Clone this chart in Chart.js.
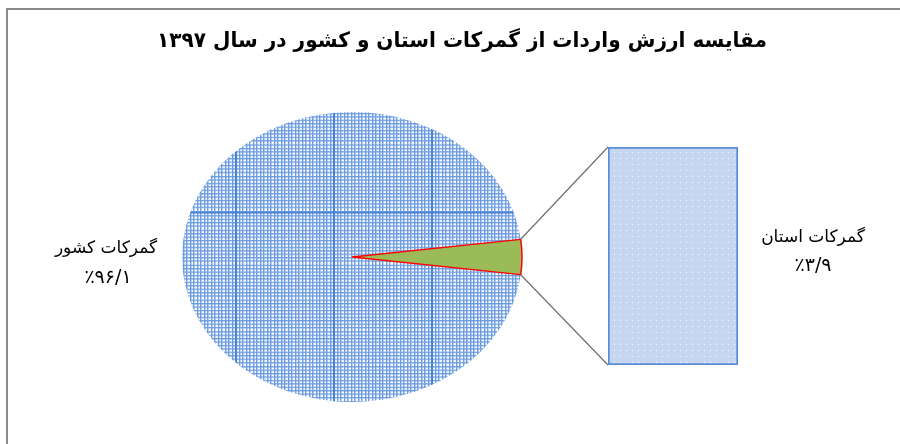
<!DOCTYPE html>
<html><head><meta charset="utf-8">
<script src="https://cdn.jsdelivr.net/npm/chart.js@4"></script>
<style>
html,body{margin:0;padding:0;background:#fff;}
#wrap{position:relative;width:900px;height:444px;overflow:hidden;background:#fff;}
#frame{position:absolute;left:6px;top:8px;width:1000px;height:1000px;border-left:2px solid #8a8a8a;border-top:2px solid #8a8a8a;box-sizing:border-box;}
canvas{position:absolute;left:0;top:0;}
</style></head><body>
<div id="wrap"><div id="frame"></div>
<canvas id="pie" width="900" height="444"></canvas>
<canvas id="bar" width="900" height="444"></canvas>
</div>
<script>
// ---- data ----
const titleText = 'مقایسه ارزش واردات از گمرکات استان و کشور در سال ۱۳۹۷';
const categories = ['گمرکات کشور', 'گمرکات استان'];
const shares = [96.1, 3.9];

// ---- helpers ----
const FONT = '"DejaVu Sans", "Noto Sans", sans-serif';
const SY = 145 / 170; // vertical squash of the pie (ellipse look)
function faNum(v) {
  const d = '۰۱۲۳۴۵۶۷۸۹';
  return '٪' + String(v).replace('.', '/').replace(/[0-9]/g, c => d[+c]);
}
function gridPattern() {
  const W = 98, H = 420;
  const c = document.createElement('canvas'); c.width = W; c.height = H;
  const g = c.getContext('2d');
  g.fillStyle = '#ffffff'; g.fillRect(0, 0, W, H);
  g.fillStyle = '#6b9be0';
  for (let i = 0; i < 28; i++) g.fillRect(Math.round(i * 3.5), 0, 1.4, H);
  const step = 3.5 / SY;
  for (let y = 0; y < H; y += step) g.fillRect(0, Math.round(y), W, 1.5);
  g.fillStyle = '#4a82d4';
  g.fillRect(0, 0, 2, H); g.fillRect(0, 0, W, 2);
  const ctx = document.getElementById('pie').getContext('2d');
  const p = ctx.createPattern(c, 'repeat');
  p.setTransform(new DOMMatrix().translate(39, 204));
  return p;
}
function dotPattern() {
  const c = document.createElement('canvas'); c.width = 6; c.height = 6;
  const g = c.getContext('2d');
  g.fillStyle = '#c5d6f0'; g.fillRect(0, 0, 6, 6);
  g.fillStyle = 'rgba(255,255,255,0.85)'; g.fillRect(2, 2, 1, 1);
  return document.getElementById('bar').getContext('2d').createPattern(c, 'repeat');
}

// ---- plugins ----
const ellipsePlugin = {
  id: 'ellipse',
  beforeDatasetsDraw(chart) {
    const a = chart.getDatasetMeta(0).data[0];
    const ctx = chart.ctx;
    ctx.save();
    ctx.translate(a.x, a.y); ctx.scale(1, SY); ctx.translate(-a.x, -a.y);
  },
  afterDatasetsDraw(chart) { chart.ctx.restore(); }
};
const pieText = {
  id: 'pieText',
  afterDraw(chart) {
    const ctx = chart.ctx;
    ctx.save();
    ctx.direction = 'rtl';
    ctx.textAlign = 'center'; ctx.textBaseline = 'middle';
    ctx.fillStyle = '#000';
    ctx.font = 'bold 21px ' + FONT;
    ctx.fillText(titleText, 462, 42, 610);
    ctx.font = '17px ' + FONT;
    ctx.fillText(categories[0], 106, 249);
    ctx.font = '19px ' + FONT;
    ctx.fillText(faNum(shares[0]), 108, 278);
    ctx.restore();
  }
};

const pieChart = new Chart(document.getElementById('pie'), {
  type: 'pie',
  data: {
    labels: categories,
    datasets: [{
      data: shares,
      backgroundColor: [gridPattern(), '#9bbb59'],
      borderColor: ['rgba(0,0,0,0)', '#ff0000'],
      borderWidth: [0, 1.5],
      hoverOffset: 0,
      offset: 0
    }]
  },
  options: {
    responsive: false, animation: false, devicePixelRatio: 1, events: [],
    rotation: 90 + shares[1] * 3.6 / 2,
    radius: 170,
    layout: { padding: { left: 182, right: 378, top: 87, bottom: 17 } },
    plugins: { legend: { display: false }, tooltip: { enabled: false }, title: { display: false } }
  },
  plugins: [ellipsePlugin, pieText]
});

const connector = {
  id: 'connector',
  beforeDatasetsDraw(chart) {
    const arc = pieChart.getDatasetMeta(0).data[1];
    const bar = chart.getDatasetMeta(0).data[0];
    const ctx = chart.ctx;
    const r = arc.outerRadius;
    const p1 = [arc.x + r * Math.cos(arc.startAngle), arc.y + r * Math.sin(arc.startAngle) * SY];
    const p2 = [arc.x + r * Math.cos(arc.endAngle), arc.y + r * Math.sin(arc.endAngle) * SY];
    const left = bar.x - bar.width / 2;
    const top = Math.min(bar.y, bar.base), bottom = Math.max(bar.y, bar.base);
    ctx.save();
    ctx.strokeStyle = '#6f6f6f'; ctx.lineWidth = 1.2;
    ctx.beginPath();
    ctx.moveTo(p1[0], p1[1]); ctx.lineTo(left, top);
    ctx.moveTo(p2[0], p2[1]); ctx.lineTo(left, bottom);
    ctx.stroke();
    ctx.restore();
  },
  afterDraw(chart) {
    const ctx = chart.ctx;
    ctx.save();
    ctx.direction = 'rtl';
    ctx.textAlign = 'center'; ctx.textBaseline = 'middle';
    ctx.fillStyle = '#000';
    ctx.font = '17px ' + FONT;
    ctx.fillText(categories[1], 813, 238);
    ctx.font = '19px ' + FONT;
    ctx.fillText(faNum(shares[1]), 813, 266);
    ctx.restore();
  }
};

const barChart = new Chart(document.getElementById('bar'), {
  type: 'bar',
  data: {
    labels: [categories[1]],
    datasets: [{
      data: [shares[1]],
      backgroundColor: dotPattern(),
      borderColor: '#5b8cd7',
      borderWidth: 2,
      borderSkipped: false,
      barPercentage: 1,
      categoryPercentage: 1
    }]
  },
  options: {
    responsive: false, animation: false, devicePixelRatio: 1, events: [],
    layout: { padding: { left: 608, right: 162, top: 147, bottom: 79 } },
    scales: { x: { display: false }, y: { display: false, min: 0, max: shares[1] } },
    plugins: { legend: { display: false }, tooltip: { enabled: false } }
  },
  plugins: [connector]
});
</script>
</body></html>
